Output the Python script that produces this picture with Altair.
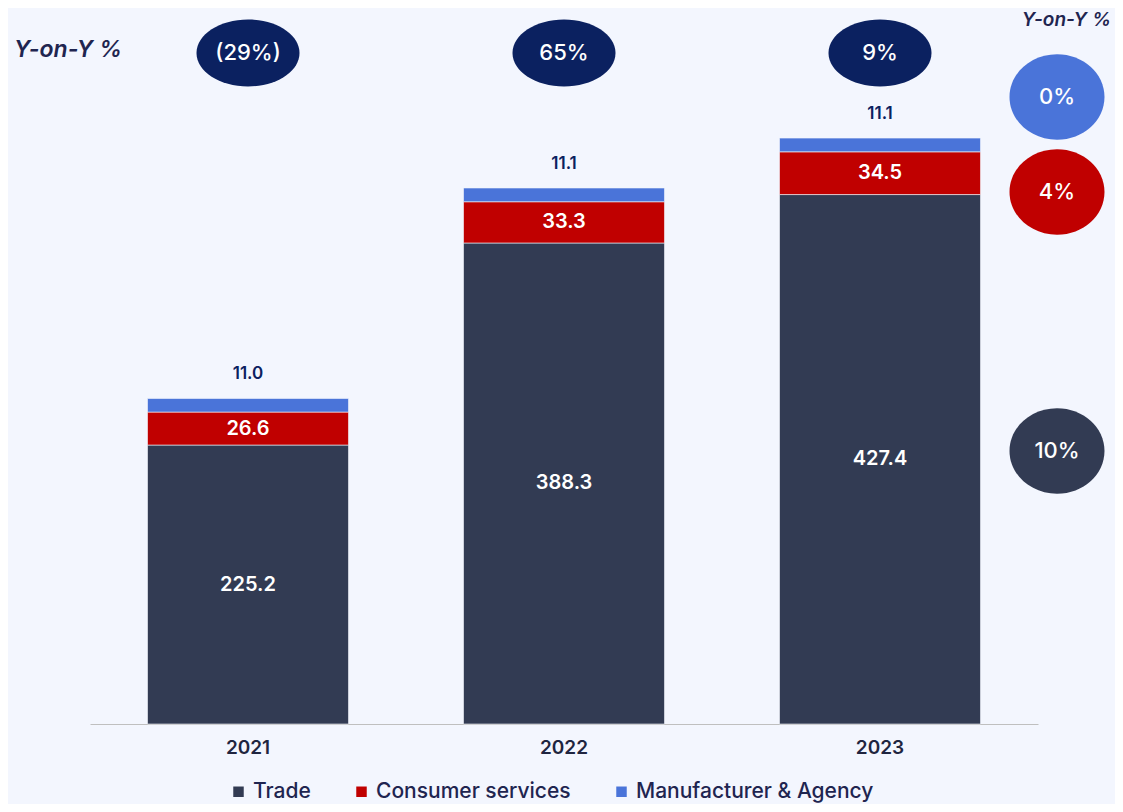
import altair as alt
import pandas as pd

years = ["2021", "2022", "2023"]
segments = ["Trade", "Consumer services", "Manufacturer & Agency"]
trade = [225.2, 388.3, 427.4]
consumer = [26.6, 33.3, 34.5]
manufacturer = [11.0, 11.1, 11.1]
yoy_total = ["(29%)", "65%", "9%"]
yoy_segment = ["0%", "4%", "10%"]  # Manufacturer, Consumer, Trade (2023)

colors = ["#323B53", "#C00000", "#4A74D9"]
BG = "#F3F6FE"
NAVY = "#0B2160"
FONT = "Inter"

rows = []
for i, y in enumerate(years):
    for k, (seg, vals) in enumerate(zip(segments, [trade, consumer, manufacturer])):
        rows.append({"year": y, "segment": seg, "order": k, "value": vals[i]})
df = pd.DataFrame(rows)

def ellipse_path(ry):
    k = 0.5523
    return (f"M1,0 C1,{k*ry:.3f} {k:.3f},{ry} 0,{ry} "
            f"C{-k:.3f},{ry} -1,{k*ry:.3f} -1,0 "
            f"C-1,{-k*ry:.3f} {-k:.3f},{-ry} 0,{-ry} "
            f"C{k:.3f},{-ry} 1,{-k*ry:.3f} 1,0 Z")

xscale = alt.Scale(domain=years, paddingInner=0.364, paddingOuter=0.182)
yscale = alt.Scale(domain=[0, 578], nice=False, zero=True)

base = alt.Chart(df).transform_stack(
    stack="value", groupby=["year"], as_=["y0", "y1"],
    sort=[alt.SortField("order", order="ascending")]
).transform_calculate(mid="(datum.y0 + datum.y1) / 2")

bars = base.mark_bar(stroke=BG, strokeWidth=0.6).encode(
    x=alt.X("year:N", scale=xscale, sort=years,
            axis=alt.Axis(title=None, labelAngle=0, ticks=False, labelFont=FONT,
                          labelFontSize=19, labelFontWeight=600, labelColor="#1F2540",
                          labelPadding=14, domainColor="#BFBFBF", domainWidth=1.2)),
    y=alt.Y("y0:Q", scale=yscale, axis=None),
    y2="y1:Q",
    color=alt.Color("segment:N", scale=alt.Scale(domain=segments, range=colors),
                    legend=alt.Legend(title=None, orient="none", legendX=138, legendY=773,
                                      direction="horizontal", symbolType="square",
                                      symbolSize=110, symbolStrokeWidth=0,
                                      labelFont=FONT, labelFontSize=21, labelColor="#1F2550",
                                      labelFontWeight=500, labelLimit=0,
                                      labelOffset=4, columnPadding=40)),
    order=alt.Order("order:Q"),
)

inner_labels = base.transform_filter("datum.order < 2").mark_text(
    color="white", font=FONT, fontSize=20, fontWeight=600, baseline="middle"
).encode(
    x=alt.X("year:N", scale=xscale, sort=years),
    y=alt.Y("mid:Q", scale=yscale),
    text=alt.Text("value:Q", format=".1f"),
)

top_labels = base.transform_filter("datum.order == 2").mark_text(
    color=NAVY, font=FONT, fontSize=17, fontWeight=600, baseline="middle", dy=-24
).encode(
    x=alt.X("year:N", scale=xscale, sort=years),
    y=alt.Y("y1:Q", scale=yscale),
    text=alt.Text("value:Q", format=".1f"),
)

tot_df = pd.DataFrame({"year": years, "yoy": yoy_total})
top_ell = alt.Chart(tot_df).mark_point(
    shape=ellipse_path(0.65), filled=True, opacity=1, size=103 * 103, color=NAVY
).encode(x=alt.X("year:N", scale=xscale, sort=years), y=alt.value(45))
top_txt = alt.Chart(tot_df).mark_text(
    color="white", font=FONT, fontSize=22, fontWeight=500, baseline="middle"
).encode(x=alt.X("year:N", scale=xscale, sort=years), y=alt.value(45), text="yoy:N")

seg_df = pd.DataFrame({
    "label": yoy_segment,
    "ypix": [89, 184, 443],
    "col": [colors[2], colors[1], colors[0]],
})
right_ell = alt.Chart(seg_df).mark_point(
    shape=ellipse_path(0.9), filled=True, opacity=1, size=95 * 95
).encode(x=alt.value(967), y=alt.Y("ypix:Q", scale=None),
         color=alt.Color("col:N", scale=None))
right_txt = alt.Chart(seg_df).mark_text(
    color="white", font=FONT, fontSize=22, fontWeight=500, baseline="middle"
).encode(x=alt.value(967), y=alt.Y("ypix:Q", scale=None), text="label:N")

title_df = pd.DataFrame({"t": ["Y-on-Y %"]})
left_title = alt.Chart(title_df).mark_text(
    font=FONT, fontSize=23, fontStyle="italic", fontWeight=600, color="#1F2550",
    align="left", baseline="middle"
).encode(x=alt.value(-76), y=alt.value(42), text="t:N")
right_title = alt.Chart(title_df).mark_text(
    font=FONT, fontSize=19, fontStyle="italic", fontWeight=600, color="#1F2550",
    align="right", baseline="middle"
).encode(x=alt.value(1021), y=alt.value(12), text="t:N")

chart = alt.layer(
    bars, inner_labels, top_labels, top_ell, top_txt, right_ell, right_txt,
    left_title, right_title
).properties(
    width=948, height=716,
    autosize=alt.AutoSizeParams(type="none"),
    padding={"left": 82, "top": 0, "right": 77, "bottom": 80},
    background=BG,
).configure_view(stroke=None)

chart.save("out.html", embed_options={"renderer": "svg", "actions": False})
